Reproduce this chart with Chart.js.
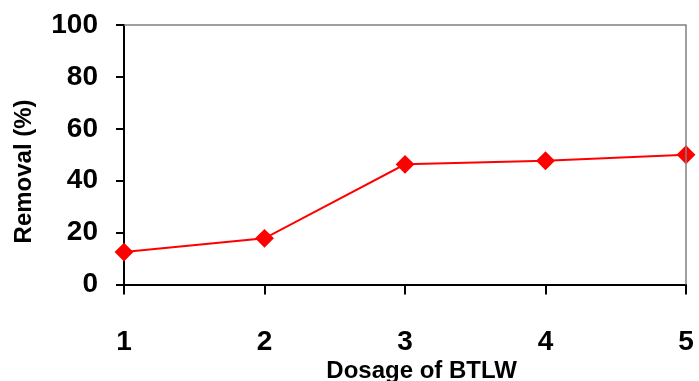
<!DOCTYPE html>
<html>
<head>
<meta charset="utf-8">
<script src="https://cdn.jsdelivr.net/npm/chart.js@4"></script>
<style>
  html, body { margin: 0; padding: 0; background: #fff; }
  #wrap { width: 699px; height: 381px; }
</style>
</head>
<body>
<div id="wrap"><canvas id="removalChart" width="699" height="381"></canvas></div>
<script>
const dosages = ['1', '2', '3', '4', '5'];
const removal = [12.5, 17.8, 46.3, 47.7, 50.0];
const yTicks = [0, 20, 40, 60, 80, 100];

// gray top/right frame like the original plot area
const frameLines = {
    id: 'frameLines',
    afterDraw(chart) {
        const a = chart.chartArea;
        const c = chart.ctx;
        c.save();
        c.strokeStyle = '#808080';
        c.lineWidth = 1.5;
        c.beginPath();
        c.moveTo(a.left, a.top);
        c.lineTo(a.right, a.top);
        c.lineTo(a.right, a.bottom);
        c.stroke();
        c.restore();
    }
};

// titles sit a little off-centre in the original, nbsp pads nudge them
const pad = '\u00a0\u00a0\u00a0\u00a0\u00a0';

const ctx = document.getElementById('removalChart').getContext('2d');
const removalChart = new Chart(ctx, {
    type: 'line',
    data: {
        labels: dosages,
        datasets: [{
            label: 'Removal',
            data: removal,
            borderColor: '#ff0000',
            backgroundColor: '#ff0000',
            borderWidth: 2,
            pointStyle: 'rectRot',
            pointRadius: 8,
            pointHoverRadius: 8,
            tension: 0
        }]
    },
    options: {
        responsive: false,
        animation: false,
        layout: { padding: { top: 25, right: 13, left: 10, bottom: 0 } },
        plugins: {
            legend: { display: false },
            tooltip: { enabled: false }
        },
        scales: {
            x: {
                offset: false,
                afterFit(scale) {
                    scale.height = 96.5;
                    scale.paddingLeft = 0;
                    scale.paddingRight = 0;
                },
                grid: {
                    drawOnChartArea: false,
                    drawTicks: true,
                    tickLength: 10,
                    color: '#000',
                    lineWidth: 2
                },
                border: { color: '#000', width: 2 },
                ticks: {
                    color: '#000',
                    padding: 31,
                    maxRotation: 0,
                    font: { family: 'Liberation Sans', size: 28, weight: 'bold' }
                },
                title: {
                    display: true,
                    text: pad + 'Dosage of BTLW',
                    color: '#000',
                    padding: { top: 0, bottom: -5 },
                    font: { family: 'Liberation Sans', size: 24, weight: 'bold' }
                }
            },
            y: {
                min: 0,
                max: 100,
                afterBuildTicks(axis) {
                    axis.ticks = yTicks.map(v => ({ value: v }));
                },
                afterFit(scale) {
                    scale.width = 114;
                    scale.paddingTop = 0;
                    scale.paddingBottom = 0;
                },
                grid: {
                    drawOnChartArea: false,
                    drawTicks: true,
                    tickLength: 8,
                    color: '#000',
                    lineWidth: 2
                },
                border: { color: '#000', width: 2 },
                ticks: {
                    color: '#000',
                    padding: 18,
                    font: { family: 'Liberation Sans', size: 28, weight: 'bold' }
                },
                title: {
                    display: true,
                    text: 'Removal (%)' + pad,
                    color: '#000',
                    padding: { top: 0, bottom: 13 },
                    font: { family: 'Liberation Sans', size: 24, weight: 'bold' }
                }
            }
        }
    },
    plugins: [frameLines]
});
</script>
</body>
</html>
